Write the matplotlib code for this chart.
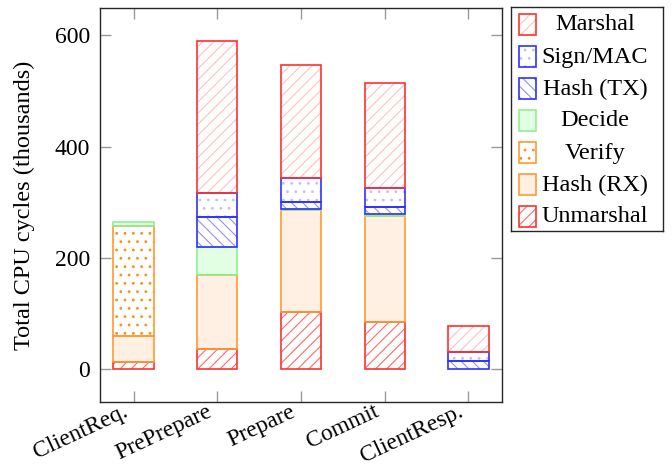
import matplotlib
matplotlib.use('Agg')
import matplotlib.pyplot as plt
from matplotlib.patches import Rectangle
from matplotlib.transforms import ScaledTranslation
import numpy as np

categories = ['ClientReq.', 'PrePrepare', 'Prepare', 'Commit', 'ClientResp.']
unmarshal = [13, 37, 102, 84, 0]
hash_rx = [47, 132, 184, 192, 0]
verify = [197, 0, 0, 0, 0]
decide = [7, 51, 2, 3, 0]
hash_tx = [0, 54, 13, 13, 14]
sign_mac = [0, 42, 42, 33, 16]
marshal = [0, 273, 203, 189, 47]
series_names = ['Unmarshal', 'Hash (RX)', 'Verify', 'Decide', 'Hash (TX)', 'Sign/MAC', 'Marshal']

plt.rcParams['font.family'] = ['Liberation Serif', 'DejaVu Serif']
plt.rcParams['font.size'] = 17
plt.rcParams['hatch.linewidth'] = 0.8

# style: (facecolor, hatch, hatchcolor, edgecolor)
styles = [
    ('none', '///', '#ff6a6a', '#ff3030'),      # Unmarshal
    ('#fff0e3', None, '#ff9a30', '#ff9a30'),    # Hash RX
    ('white', '..', '#ff8c1a', '#ff9a30'),      # Verify
    ('#e3ffe3', None, '#90f090', '#90f090'),    # Decide
    ('none', '\\\\\\', '#9090ff', '#3030ff'),   # Hash TX
    ('none', '..', '#c0c0ff', '#3030ff'),       # Sign/MAC
    ('none', '///', '#ffc0c0', '#ff3030'),      # Marshal
]
data = [unmarshal, hash_rx, verify, decide, hash_tx, sign_mac, marshal]

fig = plt.figure(figsize=(6.72, 4.68), dpi=100)
ax = fig.add_axes([100/672, (468-402)/468, 402/672, 394/468])

x = np.arange(len(categories))
width = 0.48
bottom = np.zeros(len(categories))
edge_passes = []
for vals, (fc, hatch, hc, ec) in zip(data, styles):
    v = np.array(vals, float)
    m = v > 0
    ax.bar(x[m], v[m], width, bottom=bottom[m], color=fc, edgecolor=hc,
           hatch=hatch, linewidth=0, zorder=2)
    edge_passes.append((x[m], v[m], bottom[m].copy(), ec))
    bottom += v
for xs, vs, bs, ec in edge_passes:
    ax.bar(xs, vs, width, bottom=bs, fill=False, edgecolor=ec, linewidth=1.2, zorder=3)

ax.set_xlim(-0.4, 4.4)
ax.set_ylim(-59, 649)
ax.set_yticks([0, 200, 400, 600])
ax.set_xticks(x)
ax.set_xticklabels(categories, rotation=25, ha='right', va='top', rotation_mode='anchor')
ax.tick_params(direction='in', length=8, color='0.6', width=1, top=True, right=True)
ax.tick_params(axis='x', pad=3)
ax.tick_params(axis='y', pad=7)
shift = ScaledTranslation(-11/100, 5/100, fig.dpi_scale_trans)
for lab in ax.get_xticklabels():
    lab.set_transform(lab.get_transform() + shift)
for s in ax.spines.values():
    s.set_linewidth(1.0)
    s.set_color('0.15')
ax.set_ylabel('Total CPU cycles (thousands)', labelpad=14, fontsize=17.5)

# legend
lax = fig.add_axes([511/672, (468-231)/468, 152/672, 224/468])
lax.set_xlim(0, 152)
lax.set_ylim(224, 0)
lax.set_xticks([])
lax.set_yticks([])
for s in lax.spines.values():
    s.set_linewidth(1.0)
    s.set_color('0.15')
order = list(range(len(series_names)))[::-1]
for row, idx in enumerate(order):
    fc, hatch, hc, ec = styles[idx]
    cy = 17 + 32 * row
    lax.add_patch(Rectangle((8, cy - 10.5), 17, 21, facecolor=fc, edgecolor=hc,
                            hatch=hatch, linewidth=0))
    lax.add_patch(Rectangle((8, cy - 10.5), 17, 21, fill=False, edgecolor=ec, linewidth=1.2))
    lax.text(84, cy + 1, series_names[idx], ha='center', va='center', fontsize=17.5)

fig.savefig('out.png', dpi=100)
